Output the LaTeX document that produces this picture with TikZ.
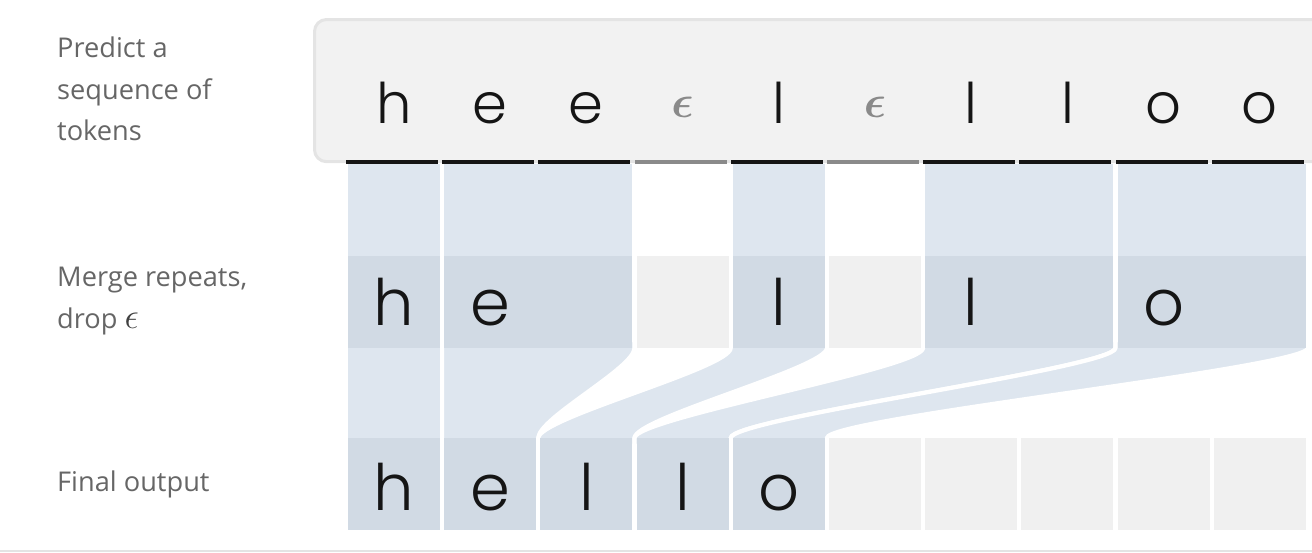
\RequirePackage{fix-cm}
\documentclass[tikz,border=0pt]{standalone}
\usepackage{fontspec}
\usepackage{bm}
\setmainfont{Open Sans}
\newfontfamily\glyphfont{Poppins Light}
\usetikzlibrary{positioning, calc, backgrounds}

\definecolor{ink}{HTML}{151515}
\definecolor{labelgray}{HTML}{666666}
\definecolor{epsgray}{HTML}{8A8A8A}
\definecolor{ribbonblue}{HTML}{DEE6EF}
\definecolor{blockblue}{HTML}{D1DAE4}
\definecolor{blankgray}{HTML}{F0F0F0}
\definecolor{boxfill}{HTML}{F2F2F2}
\definecolor{boxline}{HTML}{E4E4E4}

\newcommand{\epstok}{\raisebox{6pt}{\fontsize{46}{46}\selectfont$\bm{\epsilon}$}}

\begin{document}
\begin{tikzpicture}[x=1pt, y=-1pt,
    block/.style={rectangle, inner sep=0pt, outer sep=0pt, minimum height=92pt, minimum width=92pt, anchor=north west},
    wide/.style={minimum width=188.2pt},
    bar/.style={rectangle, inner sep=0pt, outer sep=0pt, minimum height=3.5pt, minimum width=92pt, anchor=north west},
    glyph/.style={anchor=base, inner sep=0pt, text=ink, font=\glyphfont\fontsize{64}{64}\selectfont},
    topglyph/.style={glyph, font=\glyphfont\fontsize{56}{56}\selectfont},
    rowlabel/.style={anchor=base west, inner sep=0pt, align=left, text=labelgray, font=\fontsize{27.2}{41.5}\selectfont},
    ribbon/.style={fill=ribbonblue, draw=white, line width=4.2pt, line join=round}]
  \useasboundingbox (0,0) rectangle (1312,552);

  % step labels (base is the last line)
  \node[rowlabel] (predict) at (57,140.7) {Predict a\\sequence of\\tokens};
  \node[rowlabel] (merge) at (57,328) {Merge repeats,\\drop {\fontsize{36}{36}\selectfont\color{black!75}$\epsilon$}};
  \node[rowlabel] (final) at (57,491.7) {Final output};

  % predicted tokens
  \draw[boxline, fill=boxfill, line width=3pt, rounded corners=12pt] (314.5,19.5) rectangle (1340,161.7);
  \foreach \t/\c [count=\i] in {h/ink, e/ink, e/ink, \epstok/epsgray, l/ink, \epstok/epsgray, l/ink, l/ink, o/ink, o/ink} {
    \node[bar, fill=\c] (bar\i) at ({346+96.2*(\i-1)},160) {};
    \node[topglyph, text=\c] (tok\i) at ({394+96.2*(\i-1)},123) {\t};
  }

  % merged row
  \node[block, fill=blockblue] (mh) at (348,256) {};
  \node[block, wide, fill=blockblue, right=4.2pt of mh] (me) {};
  \node[block, fill=blankgray, right=4.2pt of me] (meps1) {};
  \node[block, fill=blockblue, right=4.2pt of meps1] (ml1) {};
  \node[block, fill=blankgray, right=4.2pt of ml1] (meps2) {};
  \node[block, wide, fill=blockblue, right=4.2pt of meps2] (ml2) {};
  \node[block, wide, fill=blockblue, right=4.2pt of ml2] (mo) {};
  \foreach \t/\i in {h/1, e/2, l/5, l/7, o/9}
    \node[glyph] (mtok\i) at ({394+96.2*(\i-1)},325) {\t};

  % output row
  \foreach \i in {1,...,5}
    \node[block, fill=blockblue] (out\i) at ({348+96.2*(\i-1)},438) {};
  \foreach \i in {6,...,10}
    \node[block, fill=blankgray] (out\i) at ({348+96.2*(\i-1)},438) {};
  \foreach \t [count=\i] in {h,e,l,l,o}
    \node[glyph] (otok\i) at ({394+96.2*(\i-1)},510) {\t};

  \begin{scope}[on background layer]
    \foreach \src/\b in {mh/1, me/2, ml1/5, ml2/7, mo/9}
      \fill[ribbonblue] (\src.north west |- bar\b.south) rectangle (\src.north east);
    \foreach \src [count=\k] in {mh, me, ml1, ml2, mo}
      \path[ribbon] ($(\src.south west)+(-2.1,-8)$) -- ($(\src.south west)+(-2.1,0)$)
        .. controls +(0,20) and +(0,-20) .. ($(out\k.north west)+(-2.1,0)$)
        -- ($(out\k.north west)+(-2.1,8)$) -- ($(out\k.north east)+(2.1,8)$)
        -- ($(out\k.north east)+(2.1,0)$)
        .. controls +(0,-20) and +(0,20) .. ($(\src.south east)+(2.1,0)$)
        -- ($(\src.south east)+(2.1,-8)$) -- cycle;
  \end{scope}

  \draw[boxline, line width=1.5pt] (0,551) -- (1312,551);
\end{tikzpicture}
\end{document}
